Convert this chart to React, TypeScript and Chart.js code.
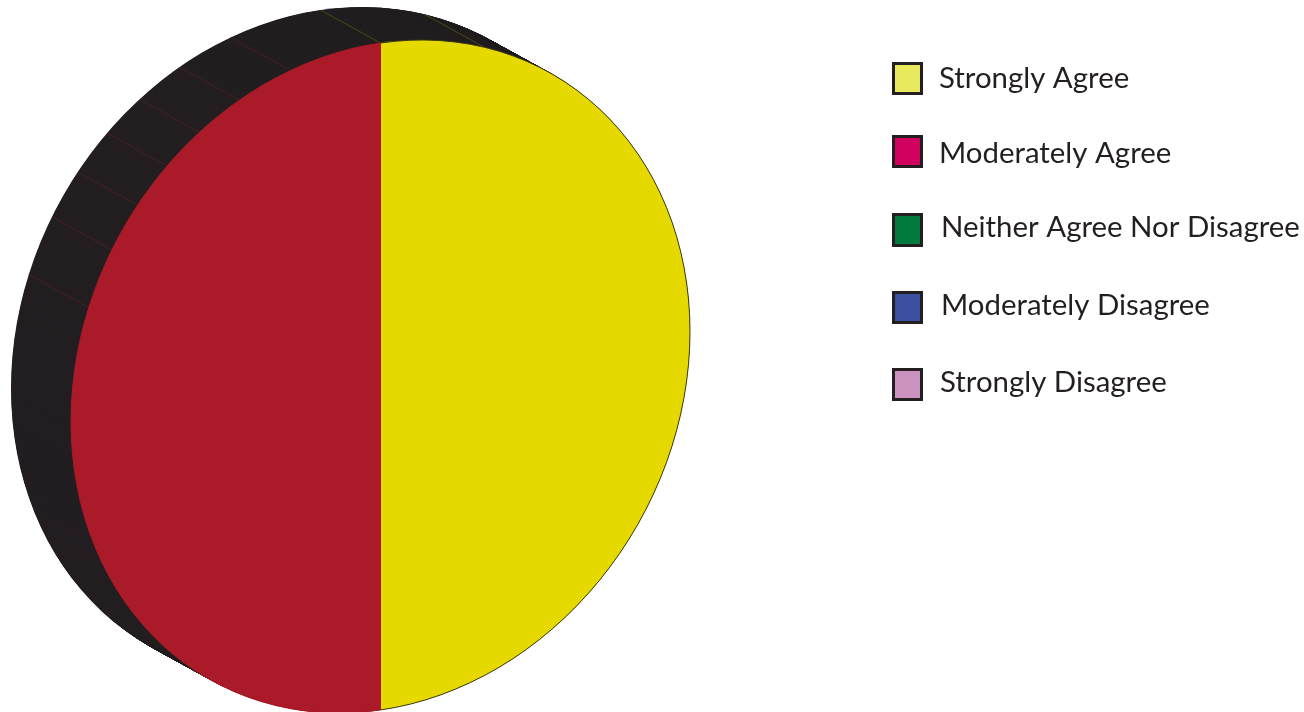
import React, { useEffect, useRef } from "react";
import { Chart, registerables } from "chart.js";

Chart.register(...registerables);

const categories = [
  "Strongly Agree",
  "Moderately Agree",
  "Neither Agree Nor Disagree",
  "Moderately Disagree",
  "Strongly Disagree",
];
const shares = [50, 50, 0, 0, 0];
const sliceColors = ["#e6d900", "#ab1a28", "#007a3d", "#3a4fa0", "#cc93c0"];
const sliceBorders = ["#3a3810", "#ab1a28", "#231f20", "#231f20", "#231f20"];
const legendColors = ["#e9e95e", "#d2005f", "#007a3d", "#3a4fa0", "#cc93c0"];

const WIDTH = 1304;
const HEIGHT = 712;
const FACE = { cx: 380.5, cy: 376.5, ux: 309.5, uy: -45, vy: 333.5 };
const DEPTH = { dx: -60, dy: -33, color: "#231f20" };
// Seams on the pie's side wall: degrees from the top, clockwise.
const seamDegrees = [-70.5, -60.2, -51.7, -43.6, -35.8, -27.1, -16.9, 0, 19.6];
const seamColors = ["#5a1f28", "#5a1f28", "#5a1f28", "#5a1f28", "#5a1f28", "#5a1f28", "#5a1f28", "#66641c", "#66641c"];

const legendBoxTop = [62, 135, 213, 291, 368];
const legendBoxBottom = [95, 168, 247, 324, 401];
const legendTextX = [939, 939, 941, 941, 940];
const legendBaseline = [88, 163, 237, 315, 392];
const LEGEND_BOX = { left: 892, right: 923, line: 3 };

const applyFace = (ctx: CanvasRenderingContext2D, el: any, ox = 0, oy = 0) => {
  const r = el.outerRadius;
  ctx.transform(
    FACE.ux / r,
    FACE.uy / r,
    0,
    FACE.vy / r,
    FACE.cx + ox - (FACE.ux / r) * el.x,
    FACE.cy + oy - (FACE.uy / r) * el.x - (FACE.vy / r) * el.y
  );
};

const piePerspective = {
  id: "piePerspective",
  beforeDatasetsDraw(chart: any) {
    const { ctx } = chart;
    const arcs = chart.getDatasetMeta(0).data;
    const steps = 140;
    ctx.fillStyle = DEPTH.color;
    for (let s = steps; s >= 0; s--) {
      const t = s / steps;
      arcs.forEach((el: any) => {
        if (el.endAngle - el.startAngle <= 0) return;
        ctx.save();
        applyFace(ctx, el, DEPTH.dx * t, DEPTH.dy * t);
        ctx.beginPath();
        ctx.moveTo(el.x, el.y);
        ctx.arc(el.x, el.y, el.outerRadius, el.startAngle, el.endAngle);
        ctx.closePath();
        ctx.fill();
        ctx.restore();
      });
    }
    const first = arcs[0];
    seamDegrees.forEach((deg, i) => {
      const a = ((deg - 90) * Math.PI) / 180;
      const px = first.x + first.outerRadius * Math.cos(a);
      const py = first.y + first.outerRadius * Math.sin(a);
      ctx.save();
      applyFace(ctx, first);
      const m = ctx.getTransform();
      ctx.restore();
      const p = m.transformPoint(new DOMPoint(px, py));
      ctx.save();
      ctx.strokeStyle = seamColors[i];
      ctx.lineWidth = 0.6;
      ctx.beginPath();
      ctx.moveTo(p.x, p.y);
      ctx.lineTo(p.x + DEPTH.dx, p.y + DEPTH.dy);
      ctx.stroke();
      ctx.restore();
    });
    ctx.save();
    applyFace(ctx, first);
  },
  afterDatasetsDraw(chart: any) {
    chart.ctx.restore();
  },
  afterDraw(chart: any) {
    const { ctx } = chart;
    ctx.save();
    chart.data.labels.forEach((label: string, i: number) => {
      const inset = LEGEND_BOX.line / 2;
      ctx.fillStyle = legendColors[i];
      ctx.strokeStyle = "#231f20";
      ctx.lineWidth = LEGEND_BOX.line;
      const x = LEGEND_BOX.left + inset;
      const y = legendBoxTop[i] + inset;
      const w = LEGEND_BOX.right - LEGEND_BOX.left - LEGEND_BOX.line;
      const h = legendBoxBottom[i] - legendBoxTop[i] - LEGEND_BOX.line;
      ctx.fillRect(x, y, w, h);
      ctx.strokeRect(x, y, w, h);
      ctx.fillStyle = "#231f20";
      ctx.font = '29.4px Lato, "Open Sans", sans-serif';
      ctx.textAlign = "left";
      ctx.textBaseline = "alphabetic";
      ctx.fillText(label, legendTextX[i], legendBaseline[i]);
    });
    ctx.restore();
  },
};

export default function App() {
  const ref = useRef<HTMLCanvasElement>(null);
  useEffect(() => {
    document.body.style.margin = "0";
    const chart = new Chart(ref.current!, {
      type: "pie",
      data: {
        labels: categories,
        datasets: [
          {
            data: shares,
            backgroundColor: sliceColors,
            borderColor: sliceBorders,
            borderWidth: shares.map((v) => (v > 0 ? 1 : 0)),
            clip: false,
          } as any,
        ],
      },
      options: {
        responsive: false,
        animation: false,
        layout: { padding: 10 },
        plugins: { legend: { display: false }, tooltip: { enabled: false }, title: { display: false } },
      },
      plugins: [piePerspective as any],
    });
    return () => chart.destroy();
  }, []);
  return <canvas ref={ref} width={WIDTH} height={HEIGHT} style={{ display: "block" }} />;
}
